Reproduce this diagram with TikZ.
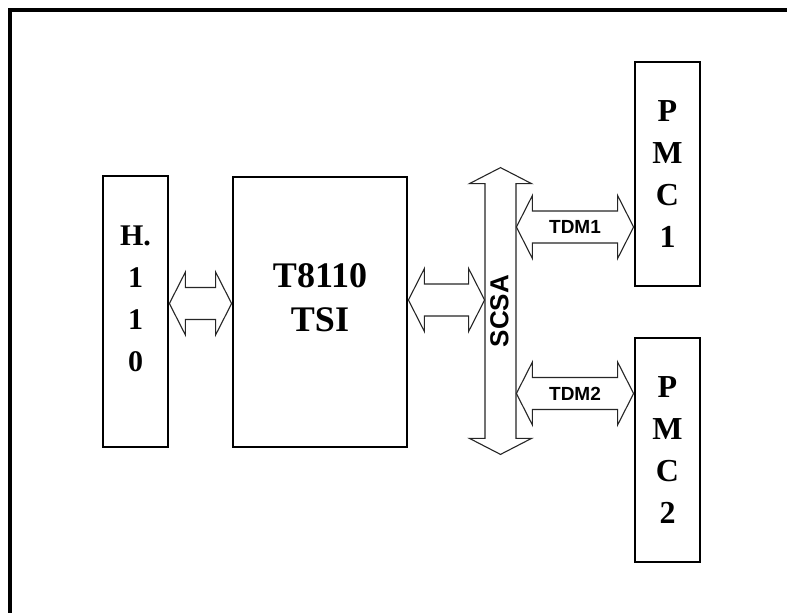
\documentclass[tikz,border=0pt]{standalone}
\usepackage{fontspec}
\setmainfont{Liberation Serif}
\setsansfont{Liberation Sans}
\usetikzlibrary{calc,positioning}
\tikzset{
  blk/.style     ={draw=black, fill=white, line width=1.4pt, inner sep=0pt,
                   minimum width=32.5pt},
  blklbl/.style  ={font=\fontsize{15}{21}\selectfont\bfseries, align=center},
  bus/.style     ={draw=none, inner sep=0pt, minimum width=15.5pt,
                   minimum height=127pt},
  fat/.style     ={draw=black!85, fill=white, line width=0.55pt, line join=miter},
  tdm/.style     ={font=\sffamily\bfseries\fontsize{9.5}{11}\selectfont},
  buslbl/.style  ={font=\sffamily\bfseries\fontsize{13}{15}\selectfont, rotate=90},
  frame/.style   ={draw=black, line width=1.6pt},
}
% horizontal double arrow: left tip, right tip, label
\newcommand{\hfat}[3]{%
  \coordinate (fa) at (#1);
  \coordinate (fb) at (#2);
  \draw[fat] (fa) -- ++(16,-31.5) -- ++(0,15.5) -- ($(fb)+(-16,-16)$)
    -- ++(0,-15.5) -- (fb) -- ++(-16,31.5) -- ++(0,-15.5)
    -- ($(fa)+(16,16)$) -- ++(0,15.5) -- cycle;
  \path (fa) -- node[tdm] {#3} (fb);}
% vertical double arrow: top tip, bottom tip
\newcommand{\vfat}[2]{%
  \coordinate (fa) at (#1);
  \coordinate (fb) at (#2);
  \draw[fat] (fa) -- ++(31,16) -- ++(-15.5,0) -- ($(fb)+(15.5,-16)$)
    -- ++(15.5,0) -- (fb) -- ++(-31,-16) -- ++(15.5,0)
    -- ($(fa)+(-15.5,16)$) -- ++(-15.5,0) -- cycle;}

\begin{document}
\begin{tikzpicture}[x=0.5pt,y=-0.5pt]
  \useasboundingbox (0,0) rectangle (787,612);
  \draw[frame] (10,620) |- (795,10);

  % blocks
  \node[blk,minimum height=135.5pt] (h110)  at (135.5,311.5) {};
  \node[blk,minimum width=87pt,minimum height=135pt] (t8110) at (320,312) {};
  \node[blk,minimum height=112pt] (pmc1) at (667.5,174) {};
  \node[blk,minimum height=112pt] (pmc2) at (667.5,450) {};
  \node[bus] (scsa) at (500.5,311) {};

  \node[blklbl] (h110txt) at ([yshift=6.5pt]h110.center) {H.\\1\\1\\0};
  \node[blklbl,font=\fontsize{18}{22}\selectfont\bfseries] (t8110txt)
    at ([yshift=7pt]t8110.center) {T8110\\TSI};
  \node[blklbl,font=\fontsize{16}{21}\selectfont\bfseries] (pmc1txt)
    at (pmc1.center) {P\\M\\C\\1};
  \node[blklbl,font=\fontsize{16}{21}\selectfont\bfseries] (pmc2txt)
    at (pmc2.center) {P\\M\\C\\2};

  % rows of the horizontal links
  \coordinate (rowh) at (0,303.5);
  \coordinate (rowt) at (0,300);
  \coordinate (row1) at (0,227);
  \coordinate (row2) at (0,393.5);

  % bus and links
  \vfat{$(scsa.north)+(0,-16)$}{$(scsa.south)+(0,16)$}
  \node[buslbl] (scsatxt) at ([xshift=-0.5pt]scsa.center) {SCSA};

  \hfat{h110.east |- rowh}{t8110.west |- rowh}{}
  \hfat{t8110.east |- rowt}{scsa.west |- rowt}{}
  \hfat{scsa.east |- row1}{pmc1.west |- row1}{TDM1}
  \hfat{scsa.east |- row2}{pmc2.west |- row2}{TDM2}
\end{tikzpicture}
\end{document}
